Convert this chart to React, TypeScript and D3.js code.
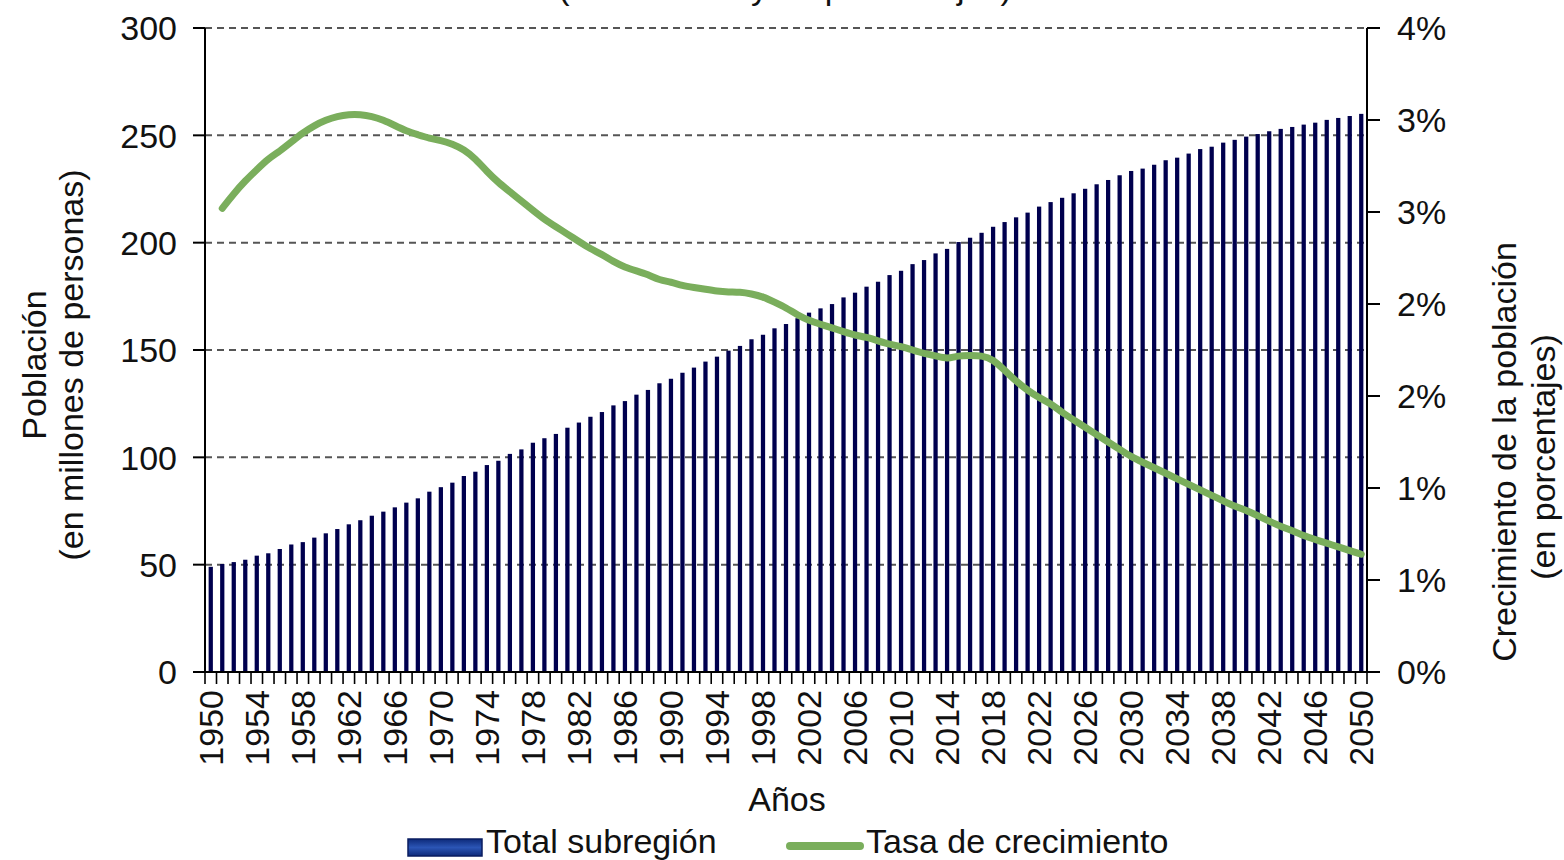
import React from "react";
import * as d3 from "d3";

const years: number[] = d3.range(1950, 2051);

const population: number[] = [
  49.0, 50.3, 51.2, 52.3, 54.2, 55.3, 57.3, 59.4, 60.5, 62.6,
  64.6, 66.6, 68.8, 70.7, 72.8, 74.7, 76.7, 78.9, 80.9, 84.0,
  86.1, 88.2, 91.3, 93.3, 96.4, 98.4, 101.6, 103.7, 106.8, 108.9,
  110.9, 113.8, 116.2, 118.9, 121.1, 124.2, 126.2, 129.2, 131.4, 134.5,
  136.6, 139.4, 141.8, 144.6, 146.9, 149.7, 151.9, 155.0, 157.1, 160.1,
  162.1, 164.8, 167.4, 169.4, 171.4, 174.5, 176.7, 179.5, 181.8, 184.9,
  186.9, 190.0, 191.9, 195.0, 197.1, 200.3, 202.3, 204.6, 207.4, 209.6,
  211.8, 214.0, 216.8, 218.9, 220.9, 223.0, 225.1, 227.2, 229.2, 231.4,
  233.4, 234.5, 236.3, 238.4, 239.6, 241.5, 243.6, 244.7, 246.6, 247.9,
  249.4, 250.6, 251.9, 253.0, 253.9, 255.0, 255.9, 257.2, 258.1, 259.0,
  260.0,
];

const growthYears: number[] = d3.range(1951, 2051);
const growth: number[] = [
  2.52, 2.60, 2.67, 2.73, 2.79, 2.83, 2.88, 2.93, 2.97,
  3.00, 3.02, 3.03, 3.03, 3.02, 3.00, 2.97, 2.94, 2.92, 2.90,
  2.89, 2.87, 2.84, 2.79, 2.72, 2.66, 2.61, 2.56, 2.51, 2.46,
  2.42, 2.38, 2.34, 2.30, 2.27, 2.23, 2.20, 2.18, 2.16, 2.13,
  2.12, 2.10, 2.09, 2.08, 2.07, 2.065, 2.065, 2.055, 2.04, 2.01,
  1.98, 1.94, 1.91, 1.89, 1.87, 1.85, 1.83, 1.82, 1.80, 1.78,
  1.77, 1.75, 1.73, 1.72, 1.70, 1.72, 1.72, 1.72, 1.70, 1.64,
  1.58, 1.53, 1.49, 1.46, 1.41, 1.37, 1.33, 1.29, 1.25, 1.21,
  1.17, 1.14, 1.11, 1.08, 1.05, 1.02, 0.99, 0.96, 0.93, 0.90,
  0.88, 0.85, 0.82, 0.79, 0.77, 0.74, 0.72, 0.70, 0.68, 0.66,
  0.64,
];

const leftTicks: number[] = [0, 50, 100, 150, 200, 250, 300];
const rightTicks: number[] = [0, 0.5, 1, 1.5, 2, 2.5, 3, 3.5];
const labelYears: number[] = d3.range(1950, 2051, 4);

const titleText = "(en millones y en porcentajes)";
const leftTitle = ["Población", "(en millones de personas)"];
const rightTitle = ["Crecimiento de la población", "(en porcentajes)"];
const xTitle = "Años";
const legendBars = "Total subregión";
const legendLine = "Tasa de crecimiento";

const W = 1564;
const H = 860;
const FONT = "'Liberation Sans', Arial, sans-serif";
const FS = 34;
const NAVY = "#00004e";
const GREEN = "#7aae5c";

export default function App() {
  const left = 205;
  const right = 1367;
  const top = 28;
  const bottom = 672;

  const x = d3.scaleBand<number>().domain(years).range([left, right]).padding(0);
  const bw = x.bandwidth();
  const cx = (yr: number) => (x(yr) as number) + bw / 2;
  const yL = d3.scaleLinear().domain([0, 300]).range([bottom, top]);
  const yR = d3.scaleLinear().domain([0, 3.5]).range([bottom, top]);

  const line = d3
    .line<number>()
    .x((_, i) => cx(growthYears[i]))
    .y((d) => yR(d))
    .curve(d3.curveBasis);

  const barW = bw * 0.37;
  const boundaries = d3.range(0, years.length + 1).map((i) => left + i * bw);
  const fmtPct = (v: number) => `${Math.round(v + 0.0001)}%`;

  return (
    <svg
      width={W}
      height={H}
      style={{ position: "absolute", left: 0, top: 0, background: "#fff" }}
      fontFamily={FONT}
    >
      <defs>
        <linearGradient id="swatch" x1="0" y1="0" x2="0" y2="1">
          <stop offset="0" stopColor="#0d2a7a" />
          <stop offset="0.5" stopColor="#2b55b5" />
          <stop offset="1" stopColor="#0d2a7a" />
        </linearGradient>
      </defs>

      {/* partially visible title (cut at the top edge, as in the reference) */}
      <text x={785} y={-1} textAnchor="middle" fontSize={FS} fill="#111">
        {titleText}
      </text>

      {/* gridlines */}
      {leftTicks
        .filter((t) => t > 0)
        .map((t) => (
          <line
            key={"g" + t}
            x1={left}
            x2={right}
            y1={yL(t)}
            y2={yL(t)}
            stroke="#555"
            strokeWidth={2}
            strokeDasharray="7 5"
          />
        ))}

      {/* bars */}
      {years.map((yr, i) => (
        <rect
          key={"b" + yr}
          x={cx(yr) - barW / 2}
          y={yL(population[i])}
          width={barW}
          height={yL(0) - yL(population[i])}
          fill={NAVY}
        />
      ))}

      {/* growth line */}
      <path
        d={line(growth) || ""}
        fill="none"
        stroke={GREEN}
        strokeWidth={7}
        strokeLinecap="round"
        strokeLinejoin="round"
      />

      {/* axes */}
      <line x1={left} x2={left} y1={top} y2={bottom} stroke="#000" strokeWidth={2} />
      <line x1={right} x2={right} y1={top} y2={bottom} stroke="#000" strokeWidth={2} />
      <line x1={left - 12} x2={right + 13} y1={bottom} y2={bottom} stroke="#000" strokeWidth={2} />

      {leftTicks.map((t) => (
        <g key={"lt" + t}>
          <line x1={left - 12} x2={left} y1={yL(t)} y2={yL(t)} stroke="#000" strokeWidth={2} />
          <text x={177} y={yL(t)} dy="0.36em" textAnchor="end" fontSize={FS} fill="#111">
            {t}
          </text>
        </g>
      ))}

      {rightTicks.map((t) => (
        <g key={"rt" + t}>
          <line x1={right} x2={right + 13} y1={yR(t)} y2={yR(t)} stroke="#000" strokeWidth={2} />
          <text x={1397} y={yR(t)} dy="0.36em" textAnchor="start" fontSize={FS} fill="#111">
            {fmtPct(t)}
          </text>
        </g>
      ))}

      {boundaries.map((bx, i) => (
        <line key={"xt" + i} x1={bx} x2={bx} y1={bottom} y2={bottom + 12} stroke="#000" strokeWidth={1.6} />
      ))}

      {labelYears.map((yr) => (
        <text
          key={"xl" + yr}
          transform={`translate(${cx(yr)},690) rotate(-90)`}
          textAnchor="end"
          dy="0.36em"
          fontSize={FS}
          fill="#111"
        >
          {yr}
        </text>
      ))}

      {/* axis titles */}
      <text transform="translate(46,365) rotate(-90)" textAnchor="middle" fontSize={FS} fill="#111">
        {leftTitle[0]}
      </text>
      <text transform="translate(83,365) rotate(-90)" textAnchor="middle" fontSize={FS} fill="#111">
        {leftTitle[1]}
      </text>
      <text transform="translate(1516,452) rotate(-90)" textAnchor="middle" fontSize={FS} fill="#111">
        {rightTitle[0]}
      </text>
      <text transform="translate(1555,457) rotate(-90)" textAnchor="middle" fontSize={FS} fill="#111">
        {rightTitle[1]}
      </text>
      <text x={787} y={811} textAnchor="middle" fontSize={FS} fill="#111">
        {xTitle}
      </text>

      {/* legend */}
      <rect x={408} y={839} width={74} height={17} fill="url(#swatch)" stroke="#0a1d60" strokeWidth={1.5} />
      <text x={486} y={853} fontSize={FS} fill="#111">
        {legendBars}
      </text>
      <line x1={790} x2={860} y1={846} y2={846} stroke={GREEN} strokeWidth={8} strokeLinecap="round" />
      <text x={866} y={853} fontSize={FS} fill="#111">
        {legendLine}
      </text>
    </svg>
  );
}
